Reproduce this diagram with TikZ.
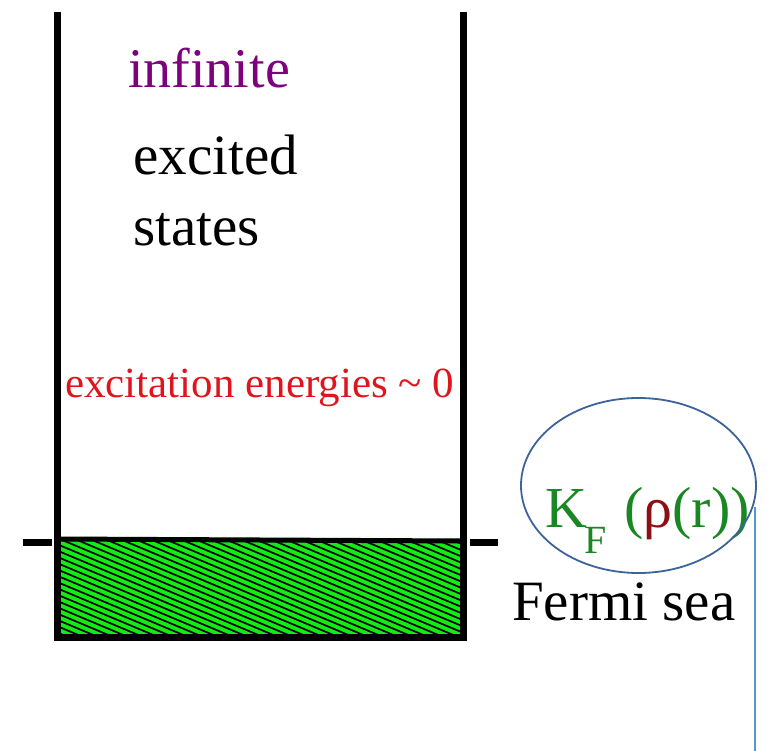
\documentclass[tikz,border=0pt]{standalone}
\usepackage{fontspec}
\usetikzlibrary{shapes.geometric}
\setmainfont{Liberation Serif}
\definecolor{wallblack}{RGB}{0,0,0}
\definecolor{seagreen}{RGB}{20,235,20}
\definecolor{infpurple}{RGB}{125,0,125}
\definecolor{exred}{RGB}{225,20,30}
\definecolor{kgreen}{RGB}{25,135,35}
\definecolor{rhored}{RGB}{140,15,20}
\definecolor{ellblue}{RGB}{60,100,155}
\definecolor{lineblue}{RGB}{90,150,215}
\tikzset{
  wall/.style={line width=7pt, draw=wallblack},
  lbl/.style={inner sep=0pt, anchor=base west},
}
\begin{document}
\begin{tikzpicture}[x=1pt,y=-1pt]
\useasboundingbox[fill=white] (0,0) rectangle (774,751);
% Fermi sea fill with hatch
\begin{scope}
  \clip (60,540) rectangle (461,634);
  \fill[seagreen] (60,540) rectangle (461,634);
  \foreach \x in {-200,-185,...,470} {
    \draw[line width=1.7pt, black] (\x,537) -- ++(250,105);
  }
\end{scope}
% surface line
\draw[line width=5pt] (57,539) -- (463,541);
% walls
\draw[wall] (57,12) -- (57,640);
\draw[wall] (463,12) -- (463,640);
\draw[wall] (53.5,637) -- (466.5,637);
% ticks
\draw[line width=7pt] (23,542) -- (52,542);
\draw[line width=7pt] (470,542) -- (498,542);
% texts
\node[lbl, text=infpurple, font=\fontsize{56}{60}\selectfont] (inf) at (128,88) {infinite};
\node[lbl, font=\fontsize{57}{60}\selectfont] (exc) at (133,175) {excited};
\node[lbl, font=\fontsize{57}{60}\selectfont] (sta) at (133,246) {states};
\node[lbl, text=exred, font=\fontsize{43}{46}\selectfont] (ene) at (65,397) {excitation energies \textasciitilde\ 0};
\node[lbl, font=\fontsize{58}{60}\selectfont] (kf) at (545,527) {{\color{kgreen}K}\hspace{-3pt}\raisebox{-26pt}{\fontsize{40}{40}\selectfont\color{kgreen}F}\hspace{18pt}{\color{kgreen}(}{\color{rhored}ρ}{\color{kgreen}(r))}};
\node[lbl, font=\fontsize{57}{60}\selectfont] (fs) at (512,620) {Fermi sea};
% ellipse and line
\node[draw=ellblue, line width=1.8pt, ellipse, minimum width=235pt, minimum height=175pt, inner sep=0pt] (ell) at (638.5,485.5) {};
\coordinate (ltop) at (755,507);
\coordinate (lbot) at (755,751);
\draw[lineblue, line width=1.8pt] (ltop) -- (lbot);
\end{tikzpicture}
\end{document}
